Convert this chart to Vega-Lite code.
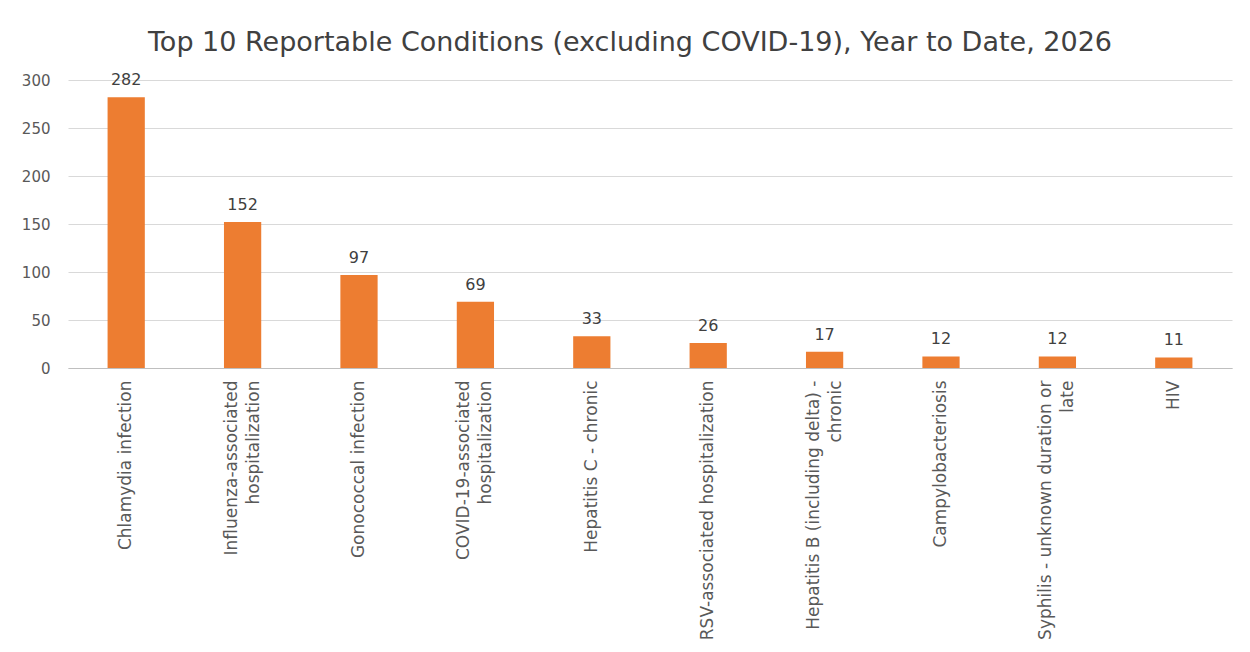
{
  "$schema": "https://vega.github.io/schema/vega-lite/v6.json",
  "description": "Top 10 reportable conditions, year to date",
  "width": 1164,
  "height": 288,
  "autosize": {"type": "none"},
  "padding": {"left": 68, "top": 80, "right": 18, "bottom": 284},
  "background": "white",
  "title": {
    "text": "Top 10 Reportable Conditions (excluding COVID-19), Year to Date, 2026",
    "fontSize": 27,
    "font": "DejaVu Sans",
    "fontWeight": "normal",
    "color": "#404040",
    "anchor": "middle",
    "dx": -20,
    "offset": 15
  },
  "data": {
    "values": [
      {"condition": "Chlamydia infection", "count": 282},
      {"condition": "Influenza-associated hospitalization", "count": 152},
      {"condition": "Gonococcal infection", "count": 97},
      {"condition": "COVID-19-associated hospitalization", "count": 69},
      {"condition": "Hepatitis C - chronic", "count": 33},
      {"condition": "RSV-associated hospitalization", "count": 26},
      {"condition": "Hepatitis B (including delta) - chronic", "count": 17},
      {"condition": "Campylobacteriosis", "count": 12},
      {"condition": "Syphilis - unknown duration or late", "count": 12},
      {"condition": "HIV", "count": 11}
    ]
  },
  "encoding": {
    "x": {
      "field": "condition",
      "type": "nominal",
      "sort": null,
      "title": null,
      "scale": {"paddingInner": 0.68, "paddingOuter": 0.34},
      "axis": {
        "labelAngle": -90,
        "labelAlign": "right",
        "labelBaseline": "middle",
        "labelFont": "DejaVu Sans",
        "labelFontSize": 17,
        "labelColor": "#595959",
        "labelPadding": 12,
        "labelLineHeight": 22,
        "labelLimit": 300,
        "labelOffset": {
          "condition": {
            "test": "indexof(['Influenza-associated hospitalization', 'COVID-19-associated hospitalization', 'Hepatitis B (including delta) - chronic', 'Syphilis - unknown duration or late'], datum.value) >= 0",
            "value": -11
          },
          "value": 0
        },
        "ticks": false,
        "domainColor": "#bfbfbf",
        "labelExpr": "datum.label == 'Influenza-associated hospitalization' ? ['Influenza-associated', 'hospitalization'] : datum.label == 'COVID-19-associated hospitalization' ? ['COVID-19-associated', 'hospitalization'] : datum.label == 'Hepatitis B (including delta) - chronic' ? ['Hepatitis B (including delta) -', 'chronic'] : datum.label == 'Syphilis - unknown duration or late' ? ['Syphilis - unknown duration or', 'late'] : datum.label"
      }
    },
    "y": {
      "field": "count",
      "type": "quantitative",
      "title": null,
      "scale": {"domain": [0, 300]},
      "axis": {
        "values": [0, 50, 100, 150, 200, 250, 300],
        "labelFont": "DejaVu Sans",
        "labelFontSize": 15,
        "labelColor": "#595959",
        "labelPadding": 18,
        "ticks": false,
        "domain": false,
        "gridColor": "#d9d9d9"
      }
    }
  },
  "layer": [
    {"mark": {"type": "bar", "color": "#ED7D31"}},
    {
      "mark": {"type": "text", "dy": -17, "font": "DejaVu Sans", "fontSize": 16, "color": "#404040"},
      "encoding": {"text": {"field": "count", "type": "quantitative"}}
    }
  ],
  "config": {"view": {"stroke": null}}
}
